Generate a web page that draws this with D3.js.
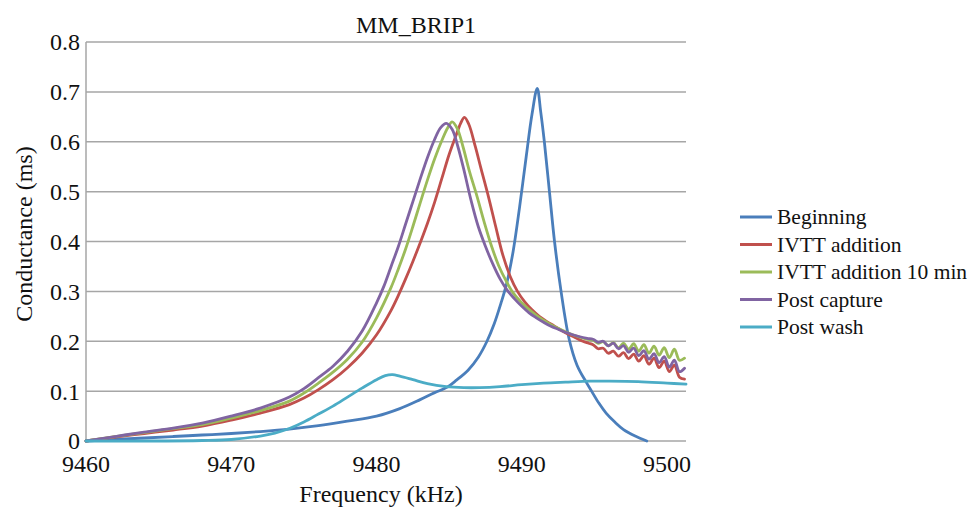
<!DOCTYPE html>
<meta charset="utf-8">
<head>
  <title>MM_BRIP1</title>
  <script src="https://cdn.jsdelivr.net/npm/d3@7"></script>
  <style>
    body { margin: 0; background: #fff; }
    svg text { font-family: "Liberation Serif", serif; fill: #111; }
    .grid line { stroke: #a6a6a6; stroke-width: 1.5; }
    .series { fill: none; stroke-width: 2.8; stroke-linejoin: round; stroke-linecap: round; }
  </style>
</head>
<body>
<div id="chart"></div>
<script>
// chart data: [frequency kHz, conductance ms]
var seriesNames = ["Beginning", "IVTT addition", "IVTT addition 10 min", "Post capture", "Post wash"];
var seriesColors = ["#4a7ebb", "#c0504d", "#9bbb59", "#8064a2", "#4bacc6"];
var xTicks = [9460, 9470, 9480, 9490, 9500];
var yTicks = [0, 0.1, 0.2, 0.3, 0.4, 0.5, 0.6, 0.7, 0.8];

var beginning = [[9460,0],[9462,0.003],[9464,0.006],[9466,0.009],[9468,0.012],[9470,0.015],[9472,0.019],
  [9474,0.024],[9476,0.031],[9478,0.040],[9480,0.050],[9481.6,0.065],[9483,0.083],[9484,0.097],[9484.8,0.107],
  [9485.5,0.122],[9486.3,0.142],[9487,0.168],[9487.6,0.2],[9488.1,0.235],[9488.55,0.275],[9488.95,0.315],
  [9489.4,0.38],[9489.85,0.47],[9490.3,0.57],[9490.7,0.655],[9491.06,0.707],[9491.3,0.66],[9491.55,0.6],
  [9491.9,0.5],[9492.25,0.4],[9492.7,0.3],[9493.25,0.205],[9493.8,0.152],[9494.45,0.117],[9494.8,0.1],
  [9495.3,0.076],[9495.8,0.056],[9496.4,0.038],[9497,0.023],[9497.8,0.01],[9498.6,0]];

var ivtt = [[9460,0],[9462,0.008],[9464,0.015],[9466,0.022],[9468,0.030],[9470,0.042],[9472,0.056],
  [9474,0.073],[9475,0.086],[9476,0.103],[9477,0.123],[9478,0.147],[9479,0.176],[9480,0.213],[9481,0.262],
  [9481.5,0.292],[9482,0.325],[9482.5,0.36],[9483,0.397],[9483.5,0.436],[9484,0.479],[9484.5,0.527],[9485,0.575],
  [9485.5,0.615],[9485.8,0.638],[9486.05,0.649],[9486.35,0.635],[9486.8,0.59],[9487.2,0.545],[9487.7,0.49],
  [9488.2,0.43],[9488.7,0.372],[9489.2,0.33],[9489.7,0.3],[9490.2,0.279],[9490.7,0.263],[9491.2,0.25],
  [9491.7,0.24],[9492.2,0.231],[9492.7,0.222],[9493.2,0.214],[9493.7,0.207],[9494.2,0.2],[9494.6,0.196],
  [9494.9,0.193],[9495.25,0.185],[9495.6,0.186],[9495.95,0.176],[9496.3,0.180],[9496.65,0.170],[9497,0.177],
  [9497.35,0.165],[9497.7,0.174],[9498.05,0.160],[9498.4,0.171],[9498.75,0.154],[9499.1,0.166],[9499.45,0.147],
  [9499.8,0.160],[9500.15,0.139],[9500.5,0.152],[9500.85,0.128],[9501.2,0.124]];

var ivtt10 = [[9460,0],[9462,0.009],[9464,0.017],[9466,0.025],[9468,0.033],[9470,0.046],[9472,0.061],
  [9474,0.080],[9475,0.096],[9476,0.116],[9477,0.138],[9478,0.164],[9479,0.198],[9480,0.247],[9481,0.308],
  [9481.5,0.345],[9482,0.385],[9482.5,0.43],[9483,0.477],[9483.5,0.523],[9484,0.566],[9484.5,0.603],
  [9484.9,0.628],[9485.2,0.640],[9485.55,0.627],[9485.95,0.59],[9486.4,0.54],[9486.9,0.492],[9487.4,0.44],
  [9487.9,0.392],[9488.4,0.352],[9488.9,0.322],[9489.4,0.297],[9489.9,0.28],[9490.4,0.266],[9491,0.252],
  [9491.5,0.242],[9492,0.233],[9492.5,0.226],[9493,0.219],[9493.5,0.213],[9494,0.208],[9494.5,0.204],
  [9494.9,0.202],[9495.25,0.196],[9495.6,0.199],[9495.95,0.191],[9496.3,0.197],[9496.65,0.187],[9497,0.196],
  [9497.35,0.184],[9497.7,0.195],[9498.05,0.180],[9498.4,0.193],[9498.75,0.176],[9499.1,0.190],[9499.45,0.172],
  [9499.8,0.187],[9500.15,0.167],[9500.5,0.184],[9500.85,0.162],[9501.2,0.166]];

var postCapture = [[9460,0],[9462,0.009],[9464,0.018],[9466,0.026],[9468,0.036],[9470,0.050],[9472,0.066],
  [9474,0.088],[9475,0.105],[9476,0.127],[9477,0.150],[9478,0.180],[9479,0.220],[9480,0.277],[9480.5,0.31],
  [9481,0.350],[9481.5,0.39],[9482,0.435],[9482.5,0.48],[9483,0.525],[9483.5,0.568],[9484,0.605],
  [9484.4,0.628],[9484.8,0.637],[9485.2,0.625],[9485.6,0.59],[9486,0.545],[9486.5,0.483],[9487,0.43],
  [9487.5,0.39],[9488,0.355],[9488.5,0.325],[9489,0.302],[9489.5,0.285],[9490,0.27],[9490.5,0.257],
  [9491,0.247],[9491.5,0.238],[9492,0.23],[9492.5,0.224],[9493,0.218],[9493.5,0.213],[9494,0.209],[9494.5,0.206],
  [9494.9,0.204],[9495.25,0.198],[9495.6,0.200],[9495.95,0.191],[9496.3,0.196],[9496.65,0.185],[9497,0.191],
  [9497.35,0.178],[9497.7,0.186],[9498.05,0.171],[9498.4,0.181],[9498.75,0.164],[9499.1,0.175],[9499.45,0.157],
  [9499.8,0.169],[9500.15,0.148],[9500.5,0.162],[9500.85,0.139],[9501.2,0.146]];

var postWash = [[9460,0],[9464,0],[9468,0.001],[9470,0.003],[9472,0.01],[9473,0.016],[9474,0.025],[9475,0.038],
  [9476,0.054],[9477,0.07],[9478,0.088],[9479,0.106],[9480,0.123],[9480.6,0.131],[9481.1,0.133],[9481.6,0.13],
  [9482.5,0.123],[9483.5,0.115],[9484.8,0.109],[9486,0.107],[9487.1,0.107],[9488.5,0.109],[9490,0.113],
  [9491.5,0.116],[9493,0.118],[9494.7,0.12],[9496,0.12],[9498,0.119],[9500,0.116],[9501.3,0.114]];

var allSeries = [beginning, ivtt, ivtt10, postCapture, postWash];

var w = 970, h = 509;
var plotLeft = 86, plotRight = 686, plotTop = 42, plotBottom = 441;
var serif = "'Liberation Serif', serif";

var svg = d3.select("#chart").append("svg").attr("width", w).attr("height", h)
  .attr("font-family", serif);

var x = d3.scaleLinear().domain([9460, 9501.3]).range([plotLeft, plotRight]);
var y = d3.scaleLinear().domain([0, 0.8]).range([plotBottom, plotTop]);

// horizontal gridlines
svg.append("g").attr("class", "grid")
  .selectAll("line").data(yTicks).enter().append("line")
  .attr("x1", plotLeft).attr("x2", plotRight)
  .attr("y1", d => y(d)).attr("y2", d => y(d));

// left axis line
svg.append("line").attr("x1", plotLeft).attr("x2", plotLeft).attr("y1", plotTop).attr("y2", plotBottom)
  .attr("stroke", "#a6a6a6").attr("stroke-width", 1.5);

// y tick labels
svg.selectAll(".ylab").data(yTicks).enter().append("text")
  .attr("class", "ylab")
  .attr("x", plotLeft - 6).attr("y", d => y(d)).attr("dy", "0.35em")
  .attr("text-anchor", "end").attr("font-size", 24).attr("font-family", serif)
  .text(d => d === 0 ? "0" : d3.format(".1f")(d));

// x tick labels
svg.selectAll(".xlab").data(xTicks).enter().append("text")
  .attr("class", "xlab")
  .attr("x", d => x(d)).attr("y", 472)
  .attr("text-anchor", "middle").attr("font-size", 24).attr("font-family", serif)
  .text(d => d);

// titles
svg.append("text").attr("x", 416).attr("y", 33).attr("text-anchor", "middle")
  .attr("font-size", 24).attr("font-family", serif).text("MM_BRIP1");
svg.append("text").attr("x", 381).attr("y", 502).attr("text-anchor", "middle")
  .attr("font-size", 24).attr("font-family", serif).text("Frequency (kHz)");
svg.append("text").attr("transform", "translate(32,234) rotate(-90)").attr("text-anchor", "middle")
  .attr("font-size", 24).attr("font-family", serif).text("Conductance (ms)");

// series lines
var line = d3.line().x(d => x(d[0])).y(d => y(d[1])).curve(d3.curveCatmullRom.alpha(0.5));
svg.selectAll(".series").data(allSeries).enter().append("path")
  .attr("class", "series")
  .attr("stroke", (d, i) => seriesColors[i])
  .attr("d", line);

// legend
var legend = svg.append("g").selectAll("g").data(seriesNames).enter().append("g")
  .attr("transform", (d, i) => "translate(740," + (224 + i * 27.5) + ")");
legend.append("line").attr("x1", 0).attr("x2", 32).attr("y1", -7).attr("y2", -7)
  .attr("stroke", (d, i) => seriesColors[i]).attr("stroke-width", 3);
legend.append("text").attr("x", 37).attr("y", 0).attr("font-size", 21.5).attr("font-family", serif)
  .text(d => d);
</script>
</body>
</html>
